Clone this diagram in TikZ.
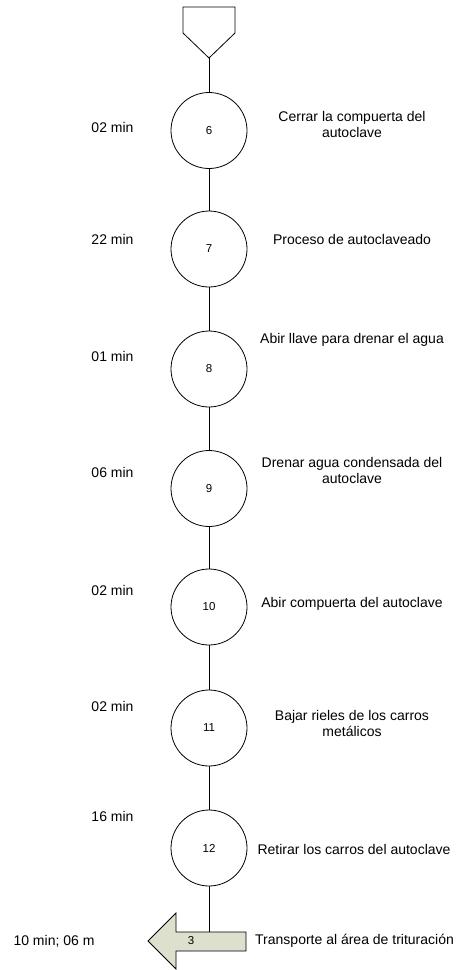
\documentclass[tikz,border=0pt]{standalone}
\usepackage{fontspec}
\setmainfont{Liberation Sans}
\begin{document}
\begin{tikzpicture}[x=1pt,y=-1pt,
  flowline/.style={draw=black,line width=0.8pt},
  opcircle/.style={circle,draw=black,line width=0.8pt,fill=white,minimum size=76pt,inner sep=0pt,font=\fontsize{11.5}{13}\selectfont},
  timelabel/.style={font=\fontsize{14}{15.5}\selectfont,inner sep=0pt},
  desclabel/.style={font=\fontsize{14}{15.5}\selectfont,align=center,inner sep=0pt},
  tagtext/.style={font=\fontsize{11.5}{13}\selectfont,inner sep=0pt}]
\definecolor{transfill}{RGB}{221,224,205}
\useasboundingbox (0,0) rectangle (461,970);
\fill[white] (0,0) rectangle (461,970);

% off-page connector at the start
\draw[flowline,line join=miter] (183,7) -- (235,7) -- (235,33) -- (209,58) -- (183,33) -- cycle;
\coordinate (start) at (209,58);

% operations
\node[opcircle] (c6)  at (209,130.5) {6};
\node[opcircle] (c7)  at (209,249)   {7};
\node[opcircle] (c8)  at (209,369)   {8};
\node[opcircle] (c9)  at (209,488.5) {9};
\node[opcircle] (c10) at (209,607)   {10};
\node[opcircle] (c11) at (209,728)   {11};
\node[opcircle] (c12) at (209,848)   {12};

% transport arrow
\draw[flowline,fill=transfill,line join=miter] (148,941) -- (176,913) -- (176,932) -- (246,932) -- (246,951) -- (176,951) -- (176,969) -- cycle;
\coordinate (t3) at (209,932);
\node[tagtext] (n3) at (191,941) {3};

% vertical flow line
\draw[flowline] (start) -- (c6.north);
\draw[flowline] (c6.south) -- (c7.north);
\draw[flowline] (c7.south) -- (c8.north);
\draw[flowline] (c8.south) -- (c9.north);
\draw[flowline] (c9.south) -- (c10.north);
\draw[flowline] (c10.south) -- (c11.north);
\draw[flowline] (c11.south) -- (c12.north);
\draw[flowline] (c12.south) -- (t3);

% times
\node[timelabel] (tm6)  at (112.5,127.5) {02 min};
\node[timelabel] (tm7)  at (112.5,239)   {22 min};
\node[timelabel] (tm8)  at (112.5,356)   {01 min};
\node[timelabel] (tm9)  at (112.5,472)   {06 min};
\node[timelabel] (tm10) at (112.5,590)   {02 min};
\node[timelabel] (tm11) at (112.5,706)   {02 min};
\node[timelabel] (tm12) at (112.5,816)   {16 min};
\node[timelabel] (tm3)  at (54,941)      {10 min; 06 m};

% descriptions
\node[desclabel] (d6)  at (352,124.5) {Cerrar la compuerta del\\autoclave};
\node[desclabel] (d7)  at (352,239)   {Proceso de autoclaveado};
\node[desclabel] (d8)  at (352,340)   {Abir llave para drenar el agua};
\node[desclabel] (d9)  at (352,470.5) {Drenar agua condensada del\\autoclave};
\node[desclabel] (d10) at (352,604)   {Abir compuerta del autoclave};
\node[desclabel] (d11) at (352,723.5) {Bajar rieles de los carros\\metálicos};
\node[desclabel] (d12) at (354,849)   {Retirar los carros del autoclave};
\node[desclabel,anchor=west] (d3) at (255,941) {Transporte al área de trituración};
\end{tikzpicture}
\end{document}
